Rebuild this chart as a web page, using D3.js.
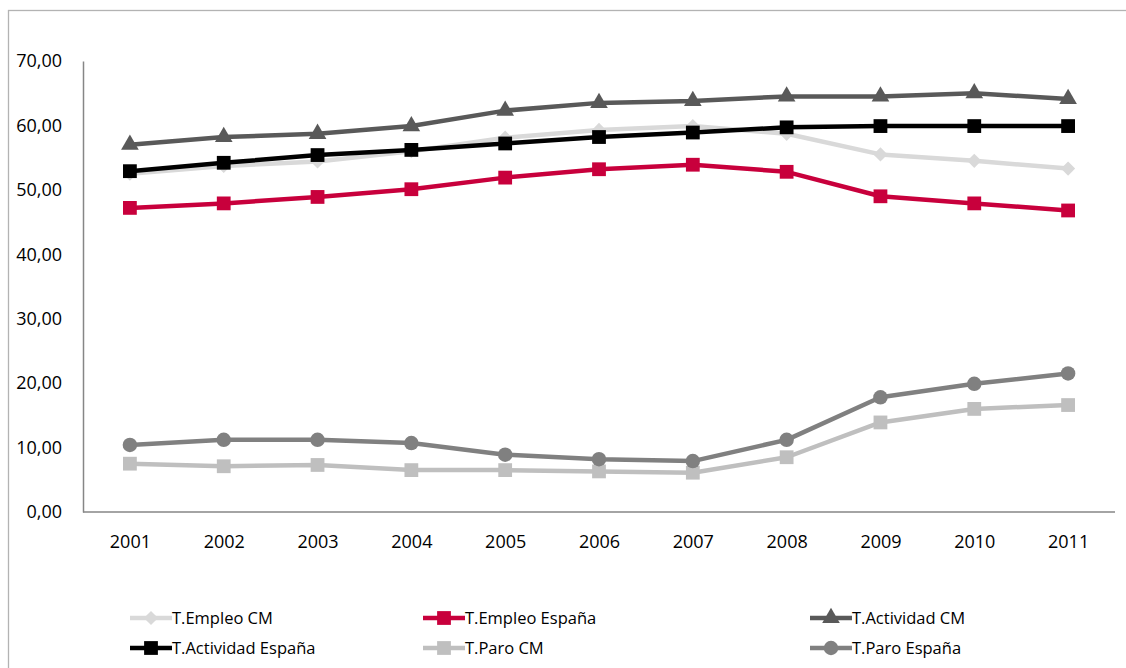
<!DOCTYPE html>
<html>
<head>
<meta charset="utf-8">
<script src="https://cdn.jsdelivr.net/npm/d3@7"></script>
<style>
  html, body { margin: 0; padding: 0; background: #ffffff; }
  svg { display: block; }
  text { font-family: "Open Sans", "Liberation Sans", sans-serif; fill: #000; }
</style>
</head>
<body>
<svg id="chart" width="1126" height="668"></svg>
<script>
// ---- Data ----
const years = ["2001","2002","2003","2004","2005","2006","2007","2008","2009","2010","2011"];
const empleoCM       = [52.5, 53.7, 54.4, 56.0, 58.1, 59.3, 59.9, 58.7, 55.5, 54.5, 53.3];
const empleoEspana   = [47.2, 47.9, 48.9, 50.1, 51.9, 53.2, 53.9, 52.8, 49.0, 47.9, 46.8];
const actividadCM    = [57.0, 58.2, 58.7, 59.9, 62.3, 63.5, 63.8, 64.5, 64.5, 65.0, 64.1];
const actividadEsp   = [52.9, 54.2, 55.4, 56.2, 57.2, 58.2, 58.9, 59.7, 59.9, 59.9, 59.9];
const paroCM         = [7.5, 7.1, 7.3, 6.5, 6.5, 6.3, 6.1, 8.5, 13.9, 16.0, 16.6];
const paroEspana     = [10.4, 11.2, 11.2, 10.7, 8.9, 8.2, 7.9, 11.2, 17.8, 19.9, 21.5];
const yTickValues = [0, 10, 20, 30, 40, 50, 60, 70];
const yTickLabels = ["0,00","10,00","20,00","30,00","40,00","50,00","60,00","70,00"];
const seriesNames = ["T.Empleo CM","T.Empleo España","T.Actividad CM","T.Actividad España","T.Paro CM","T.Paro España"];

const seriesValues = [empleoCM, empleoEspana, actividadCM, actividadEsp, paroCM, paroEspana];
const styles = [
  { color: "#d9d9d9", marker: "diamond" },
  { color: "#c8003c", marker: "square" },
  { color: "#595959", marker: "triangle" },
  { color: "#000000", marker: "square" },
  { color: "#bfbfbf", marker: "square" },
  { color: "#808080", marker: "circle" }
];

const svg = d3.select("#chart");

// outer chart border
svg.append("rect")
  .attr("x", 8.5).attr("y", 10.5)
  .attr("width", 1300).attr("height", 1000)
  .attr("fill", "none").attr("stroke", "#b3b3b3").attr("stroke-width", 1.3);

const plot = { left: 83, right: 1115, top: 61, bottom: 512 };

const x = d3.scalePoint().domain(years).range([plot.left, plot.right]).padding(0.5);
const y = d3.scaleLinear().domain([0, 70]).range([plot.bottom, plot.top]);

// Y axis
const yAxis = svg.append("g")
  .attr("transform", `translate(${plot.left},0)`)
  .call(d3.axisLeft(y).tickValues(yTickValues)
    .tickFormat((d, i) => yTickLabels[i])
    .tickSizeInner(0).tickSizeOuter(0).tickPadding(21));
yAxis.select(".domain").attr("stroke", "#868686").attr("stroke-width", 1.5);
yAxis.selectAll("text").style("font-size", "18px").attr("fill", "#000");

// X axis
const xAxis = svg.append("g")
  .attr("transform", `translate(0,${plot.bottom})`)
  .call(d3.axisBottom(x).tickSizeInner(0).tickSizeOuter(0).tickPadding(23));
xAxis.select(".domain").attr("stroke", "#868686").attr("stroke-width", 1.5)
  .attr("d", `M${plot.left},0H${plot.right}`);
xAxis.selectAll("text").style("font-size", "18px").attr("fill", "#000");

function markerPath(type) {
  if (type === "square") return d3.symbol(d3.symbolSquare, 190)();
  if (type === "diamond") return d3.symbol(d3.symbolSquare, 100)();
  if (type === "triangle") return d3.symbol(d3.symbolTriangle, 135)();
  if (type === "circle") return d3.symbol(d3.symbolCircle, 165)();
}
function markerRot(type) { return type === "diamond" ? " rotate(45)" : ""; }

const line = d3.line().x((d, i) => x(years[i])).y(d => y(d));

seriesValues.forEach((vals, si) => {
  const st = styles[si];
  const g = svg.append("g");
  g.append("path").datum(vals)
    .attr("d", line)
    .attr("fill", "none")
    .attr("stroke", st.color)
    .attr("stroke-width", 4.5)
    .attr("stroke-linejoin", "round");
  g.selectAll("path.m").data(vals).join("path")
    .attr("class", "m")
    .attr("d", markerPath(st.marker))
    .attr("transform", (d, i) => `translate(${x(years[i])},${y(d)})${markerRot(st.marker)}`)
    .attr("fill", st.color);
});

// Legend
const legendCols = [130, 423, 810];
const legendRows = [618, 648];
const legend = svg.append("g");
seriesNames.forEach((name, i) => {
  const col = legendCols[i % 3];
  const row = legendRows[Math.floor(i / 3)];
  const st = styles[i];
  const lg = legend.append("g").attr("transform", `translate(${col},${row})`);
  lg.append("line").attr("x1", 0).attr("x2", 42).attr("y1", 0).attr("y2", 0)
    .attr("stroke", st.color).attr("stroke-width", 4.5);
  lg.append("path").attr("d", markerPath(st.marker))
    .attr("transform", `translate(21,0)${markerRot(st.marker)}`)
    .attr("fill", st.color);
  lg.append("text").attr("x", 42).attr("y", 0).attr("dy", "0.35em")
    .style("font-size", "16.5px").text(name);
});
</script>
</body>
</html>
